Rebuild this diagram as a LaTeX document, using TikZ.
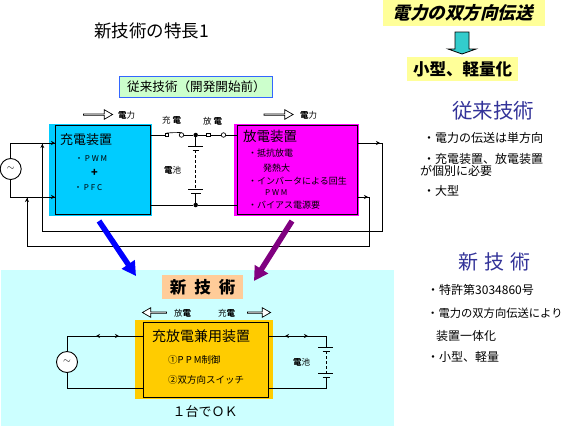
\documentclass[tikz,border=0pt]{standalone}
\usepackage{fontspec}
\setmainfont{Noto Sans CJK JP}
\usetikzlibrary{arrows.meta,shapes.arrows}
\definecolor{cyanbox}{HTML}{00CCFF}
\definecolor{magbox}{HTML}{FF00FF}
\definecolor{paleblue}{HTML}{CCFFFF}
\definecolor{orangebox}{HTML}{FFCC00}
\definecolor{peach}{HTML}{FFCC99}
\definecolor{palegreen}{HTML}{CCFFCC}
\definecolor{paleyellow}{HTML}{FFFF99}
\definecolor{framebl}{HTML}{3366FF}
\definecolor{headblue}{HTML}{333399}
\definecolor{teal}{HTML}{33CCCC}
\definecolor{purple2}{HTML}{800080}
\tikzset{
  box/.style={draw=black,line width=1pt,fill=none,inner sep=0pt,anchor=north west},
  fillbox/.style={inner sep=0pt,anchor=north west},
  wire/.style={line width=0.9pt,line join=miter},
  tick/.style={line width=0.9pt,-{Stealth[length=4pt,width=4pt]}},
  dotj/.style={circle,fill=black,inner sep=0pt,minimum size=4.5pt},
  src/.style={circle,draw=black,fill=white,line width=0.9pt,inner sep=0pt,minimum size=21pt},
  swsq/.style={rectangle,draw=black,fill=white,line width=0.7pt,inner sep=0pt,minimum size=3.5pt},
  swci/.style={circle,draw=black,fill=white,line width=0.7pt,inner sep=0pt,minimum size=4.5pt},
  hollow/.style={single arrow,draw=black,fill=white,line width=0.7pt,inner sep=0pt,minimum height=29pt,minimum width=9.5pt,single arrow head extend=2.2pt,single arrow head indent=0pt,single arrow tip angle=60},
  txt/.style={anchor=west,inner sep=0pt,font=\fontsize{#1}{#1}\selectfont},
  txt/.default=8,
  ctr/.style={anchor=center,inner sep=0pt,font=\fontsize{#1}{#1}\selectfont},
  big/.style={line width=5.5pt},
}
\begin{document}
\begin{tikzpicture}[x=1pt,y=-1pt]
\useasboundingbox (0,0) rectangle (564,426);
\fill[white] (0,0) rectangle (564,426);
% title
\node[txt=17.5] (title) at (94,31) {新技術の特長1};
% fills
\node[fillbox,fill=cyanbox,minimum width=103pt,minimum height=92pt] (cfill) at (49,124) {};
\node[fillbox,fill=magbox,minimum width=125pt,minimum height=92pt] (mfill) at (234,124) {};
\node[fillbox,fill=paleblue,minimum width=393pt,minimum height=156pt] (lower) at (1,270) {};
\node[fillbox,fill=orangebox,minimum width=138pt,minimum height=79pt] (ofill) at (135,320) {};
\node[box,minimum width=95pt,minimum height=89pt] (charger) at (55,125) {};
\node[box,minimum width=120pt,minimum height=89pt] (disch) at (237,125) {};
\node[box,minimum width=125pt,minimum height=75pt] (both) at (143,322) {};
% top label
\node[fillbox,fill=palegreen,draw=framebl,line width=0.8pt,minimum width=153pt,minimum height=21pt] (oldbox) at (118.5,76) {};
\node[txt=12.6] (oldtxt) at (127,87) {従来技術（開発開始前）};
% upper source and wires
\node[src] (s1) at (10.7,169) {};
\node[ctr=10] at (s1) {$\sim$};
\coordinate (j1) at (42.3,143);
\coordinate (j2) at (27,197);
\draw[wire] (s1.north) |- (charger.west|-j1);
\draw[wire] (s1.south) |- (charger.west|-j2);
\coordinate (a1) at (49,143); \coordinate (a2) at (55,143);
\coordinate (a3) at (49,197); \coordinate (a4) at (55,197);
\draw[tick] (a1) -- (a2);
\draw[tick] (a3) -- (a4);
\coordinate (r1) at (382,231);
\coordinate (r2) at (369,246);
\coordinate (e1) at (357,143);
\coordinate (e2) at (357,197);
\draw[wire] (e1) -- (382,143) -- (r1) -- (42.3,231) -- (j1);
\draw[wire] (e2) -- (369,197) -- (r2) -- (27,246) -- (j2);
\coordinate (t1) at (42.3,147); \coordinate (t2) at (42.3,144);
\draw[tick] (t1) -- (t2);
\coordinate (t3) at (27,201); \coordinate (t4) at (27,198);
\draw[tick] (t3) -- (t4);
\coordinate (t5) at (375,143); \coordinate (t6) at (380,143);
\draw[tick] (t5) -- (t6);
\coordinate (t7) at (362,197); \coordinate (t8) at (368,197);
\draw[tick] (t7) -- (t8);
% switches and battery
\node[dotj] (top) at (195.7,135) {};
\node[dotj] (bot) at (195.7,205) {};
\node[swsq] (sw1a) at (166.7,135) {};
\node[swci] (sw1b) at (181.5,135) {};
\node[swsq] (sw2a) at (208.5,135) {};
\node[swci] (sw2b) at (223.5,135) {};
\coordinate (cout) at (150,135);
\coordinate (dout) at (237,135);
\coordinate (cbot) at (150,205);
\coordinate (dbot) at (237,205);
\draw[wire] (cout) -- (sw1a);
\draw[wire] (sw1b) -- (top) -- (sw2a);
\draw[wire] (sw2a) -- (sw2b);
\draw[wire] (sw2b) -- (dout);
\draw[line width=0.6pt] (sw1a.north) -- (sw1b.north);
\draw[wire] (cbot) -- (bot) -- (dbot);
\coordinate (p1) at (195.7,146); \coordinate (p2) at (195.7,150);
\coordinate (p3) at (195.7,189); \coordinate (p4) at (195.7,193);
\draw[wire] (top) -- (p1);
\draw[wire] (188,146) -- (203,146);
\draw[wire] (192.5,150) -- (199,150);
\draw[line width=0.7pt,dash pattern=on 3pt off 2pt] (p2) -- (p3);
\draw[wire] (188,189) -- (203,189);
\draw[wire] (191,193) -- (200.5,193);
\draw[wire] (p4) -- (bot);
% upper labels
\node[hollow] (h1) at (97.5,114.5) {};
\node[txt=8.5] (l1) at (118,115) {\textbf{電}力};
\node[hollow] (h2) at (278,114.5) {};
\node[txt=8.5] (l2) at (300,115) {\textbf{電}力};
\node[txt=8.5] (l3) at (162,120) {充 \textbf{電}};
\node[txt=8.5] (l4) at (203,121) {放 \textbf{電}};
\node[txt=8.5] (l5) at (164,170) {\textbf{電}池};
% charger text
\node[txt=13] (c1) at (60,140) {充電装置};
\node[txt=8] (c2) at (75,159) {・ P W M};
\node[ctr=11] (c3) at (94.5,172.5) {\textbf{+}};
\node[txt=8] (c4) at (74,188) {・ P F C};
% discharger text
\node[txt=13.5] (d1) at (243,136) {放電装置};
\node[txt=9] (d2) at (248,153) {・抵抗放電};
\node[txt=9] (d3) at (263,168) {発熱大};
\node[txt=9] (d4) at (248,181) {・インバータによる回生};
\node[txt=8] (d5) at (265,193) {P W M};
\node[txt=9] (d6) at (248,205) {・バイアス電源要};
% big arrows
\coordinate (bs) at (99,221); \coordinate (be) at (136,276);
\coordinate (ps) at (292,221); \coordinate (pe) at (254,281);
\draw[big,blue,-{Triangle[length=14pt,width=15pt]}] (bs) -- (be);
\draw[big,purple2,-{Triangle[length=14pt,width=15pt]}] (ps) -- (pe);
% new tech
\node[fillbox,fill=peach,minimum width=81pt,minimum height=24pt] (newbox) at (162,275) {};
\node[ctr=16.5] (newtxt) at (newbox) {\textbf{新\hspace{8pt}技\hspace{8pt}術}};
\node[hollow,shape border rotate=180,minimum height=24pt] (h3) at (155,312.5) {};
\node[txt=8.5] (l6) at (174,313) {放\textbf{電}};
\node[txt=8.5] (l7) at (218,313) {充\textbf{電}};
\node[hollow,minimum height=23pt] (h4) at (258.5,312.5) {};
\node[txt=14] (b1) at (152,336) {充放電兼用装置};
\node[txt=9.5] (b2) at (168,360) {①P P M制御};
\node[txt=9.5] (b3) at (168,380) {②双方向スイッチ};
\node[ctr=13] (one) at (205,412) {１台でＯＫ};
% lower circuit
\node[src] (s2) at (67,362) {};
\node[ctr=10] at (s2) {$\sim$};
\coordinate (lt) at (143,336); \coordinate (lb) at (143,388);
\coordinate (rt) at (268,336); \coordinate (rb) at (268,388);
\coordinate (q1) at (326,347); \coordinate (q2) at (326,351);
\coordinate (q3) at (326,373); \coordinate (q4) at (326,377);
\draw[wire] (s2.north) |- (lt);
\draw[wire] (s2.south) |- (lb);
\draw[wire] (rt) -| (q1);
\draw[wire] (rb) -| (q4);
\draw[wire] (318,347) -- (333,347);
\draw[wire] (322.5,351) -- (329.5,351);
\draw[line width=0.7pt,dash pattern=on 3pt off 2pt] (q2) -- (q3);
\draw[wire] (318,373) -- (333,373);
\draw[wire] (322.5,377) -- (329.5,377);
\coordinate (u1) at (100,336); \coordinate (u2) at (96,336);
\coordinate (u3) at (115,336); \coordinate (u4) at (119,336);
\coordinate (u5) at (289,336); \coordinate (u6) at (285,336);
\coordinate (u7) at (304,336); \coordinate (u8) at (308,336);
\draw[tick] (u1) -- (u2);
\draw[tick] (u3) -- (u4);
\draw[tick] (u5) -- (u6);
\draw[tick] (u7) -- (u8);
\node[txt=8.5] (l8) at (293,362) {\textbf{電}池};
% right column
\node[fillbox,fill=paleyellow,minimum width=162pt,minimum height=26pt] (ybox1) at (383,0) {};
\node[ctr=17.5,xslant=0.25] (y1) at (ybox1) {\textbf{電力の双方向伝送}};
\node[fillbox,fill=paleyellow,minimum width=111pt,minimum height=24pt] (ybox2) at (407,57) {};
\node[ctr=16.5] (y2) at (ybox2) {\textbf{小型、軽量化}};
\draw[draw=black,fill=teal,line width=0.8pt] (455,32) -- (469,32) -- (469,49) -- (476,49) -- (462,54) -- (448,49) -- (455,49) -- cycle;
\node[txt=20.5,text=headblue] (r1t) at (452,111) {従来技術};
\node[txt=12] (r2) at (423,138) {・電力の伝送は単方向};
\node[txt=12] (r3) at (423,159) {・充電装置、放電装置};
\node[txt=12] (r4) at (420,171) {が個別に必要};
\node[txt=12] (r5) at (423,191) {・大型};
\node[txt=20,text=headblue] (r6) at (458,262) {新\hspace{6pt}技\hspace{6pt}術};
\node[txt=12] (r7) at (427,290) {・特許第3034860号};
\node[txt=11.3] (r8) at (427,313) {・電力の双方向伝送により};
\node[txt=12] (r9) at (436,336) {装置一体化};
\node[txt=12] (r10) at (427,357) {・小型、軽量};
\end{tikzpicture}
\end{document}
